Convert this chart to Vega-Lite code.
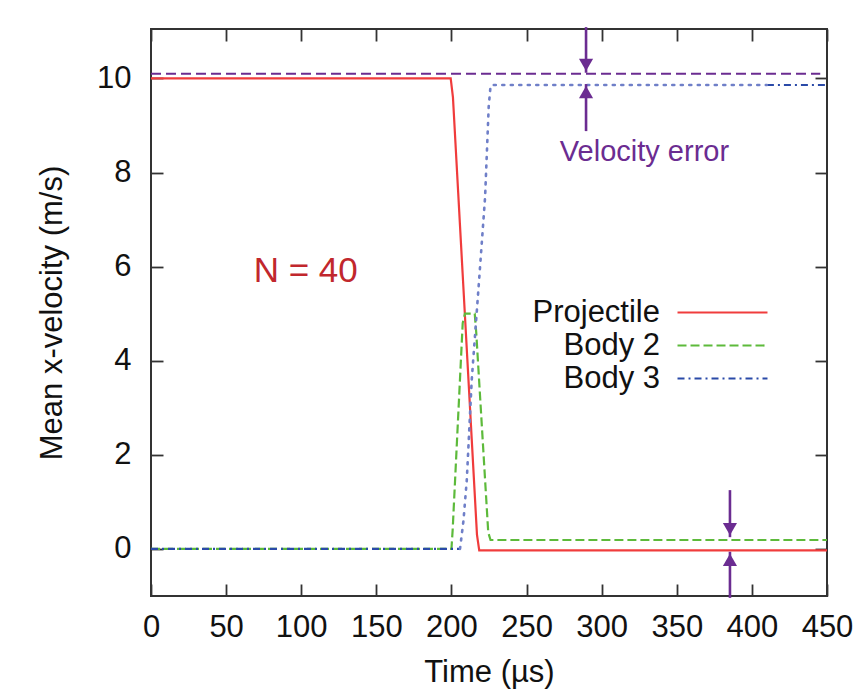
{
  "$schema": "https://vega.github.io/schema/vega-lite/v6.json",
  "width": 676,
  "height": 567,
  "autosize": "none",
  "padding": {"left": 151, "top": 29, "right": 38, "bottom": 100},
  "background": "white",
  "config": {
    "view": {"stroke": "#333333", "strokeWidth": 2},
    "axis": {
      "domain": false, "grid": false, "tickSize": -12, "tickColor": "#333333", "tickWidth": 1.8,
      "labelOverlap": false, "labelFlush": false,
      "labelFont": "Liberation Sans", "labelFontSize": 31, "labelColor": "#111111",
      "titleFont": "Liberation Sans", "titleFontSize": 31, "titleFontWeight": "normal", "titleColor": "#111111"
    }
  },
  "datasets": {
    "curves": [
      {"series": "Projectile", "part": "a", "t": 0, "v": 10},
      {"series": "Projectile", "part": "a", "t": 199.5, "v": 10},
      {"series": "Projectile", "part": "a", "t": 201, "v": 9.6},
      {"series": "Projectile", "part": "a", "t": 217, "v": 0.3},
      {"series": "Projectile", "part": "a", "t": 218.5, "v": -0.03},
      {"series": "Projectile", "part": "a", "t": 450, "v": -0.03},
      {"series": "Body 2", "part": "a", "t": 0, "v": 0},
      {"series": "Body 2", "part": "a", "t": 200, "v": 0},
      {"series": "Body 2", "part": "a", "t": 200.8, "v": 0.4},
      {"series": "Body 2", "part": "a", "t": 207.5, "v": 4.8},
      {"series": "Body 2", "part": "a", "t": 209, "v": 5.0},
      {"series": "Body 2", "part": "a", "t": 215.5, "v": 5.0},
      {"series": "Body 2", "part": "a", "t": 216.5, "v": 4.6},
      {"series": "Body 2", "part": "a", "t": 224.5, "v": 0.35},
      {"series": "Body 2", "part": "a", "t": 226, "v": 0.19},
      {"series": "Body 2", "part": "a", "t": 450, "v": 0.19},
      {"series": "Body 3", "part": "a", "t": 0, "v": 0},
      {"series": "Body 3", "part": "a", "t": 205.7, "v": 0},
      {"series": "Body 3", "part": "b", "t": 410, "v": 9.86},
      {"series": "Body 3", "part": "b", "t": 450, "v": 9.86}
    ],
    "dotted": [
      {"t": 205.7, "v": 0},
      {"t": 208, "v": 0.6},
      {"t": 210.2, "v": 1.46},
      {"t": 213.5, "v": 3.59},
      {"t": 218.4, "v": 5.71},
      {"t": 222.4, "v": 7.48},
      {"t": 224.8, "v": 9.4},
      {"t": 226, "v": 9.83},
      {"t": 227, "v": 9.86},
      {"t": 410, "v": 9.86}
    ],
    "ref": [{"t": 0, "t2": 445.5, "v": 10.1}],
    "arrows": [
      {"t": 289.6, "tail": 11.09, "tip": 10.12, "dir": "down"},
      {"t": 289.6, "tail": 8.88, "tip": 9.88, "dir": "up"},
      {"t": 385.4, "tail": 1.25, "tip": 0.25, "dir": "down"},
      {"t": 385.4, "tail": -1.04, "tip": -0.06, "dir": "up"}
    ],
    "label1": [{"t": 103, "v": 5.9, "text": "N = 40"}],
    "label2": [{"t": 328.5, "v": 8.44, "text": "Velocity error"}]
  },
  "layer": [
    {
      "data": {"name": "curves"},
      "mark": {"type": "line", "strokeWidth": 2.2, "clip": true},
      "encoding": {
        "x": {"field": "t", "type": "quantitative", "scale": {"domain": [0, 450], "nice": false, "zero": false},
              "axis": {"values": [0, 50, 100, 150, 200, 250, 300, 350, 400, 450], "title": "Time (µs)", "labelPadding": 28, "labelDx": 3, "titlePadding": 15}},
        "y": {"field": "v", "type": "quantitative", "scale": {"domain": [-1, 11.05], "nice": false, "zero": false},
              "axis": {"values": [0, 2, 4, 6, 8, 10], "title": "Mean x-velocity (m/s)", "labelPadding": 32, "titlePadding": 28}},
        "color": {"field": "series", "type": "nominal",
                  "scale": {"domain": ["Projectile", "Body 2", "Body 3"], "range": ["#f03c3c", "#5dba3b", "#2a4aa8"]},
                  "legend": {"orient": "none", "legendX": 556, "legendY": 268, "title": null, "padding": 0,
                             "symbolType": "M-4,0H4", "symbolSize": 506, "symbolStrokeWidth": 2.2,
                             "labelFont": "Liberation Sans", "labelFontSize": 31, "labelColor": "#111111",
                             "labelAlign": "right", "labelOffset": -78, "rowPadding": 1, "labelLimit": 400}},
        "strokeDash": {"field": "series", "type": "nominal",
                       "scale": {"domain": ["Projectile", "Body 2", "Body 3"], "range": [[1, 0], [9, 4], [7, 4, 2, 4]]},
                       "legend": {"orient": "none", "legendX": 556, "legendY": 268, "title": null, "padding": 0,
                             "symbolType": "M-4,0H4", "symbolSize": 506, "symbolStrokeWidth": 2.2,
                             "labelFont": "Liberation Sans", "labelFontSize": 31, "labelColor": "#111111",
                             "labelAlign": "right", "labelOffset": -78, "rowPadding": 1, "labelLimit": 400}},
        "detail": {"field": "part", "type": "nominal"},
        "order": {"field": "t", "type": "quantitative"}
      }
    },
    {
      "data": {"name": "dotted"},
      "mark": {"type": "line", "color": "#6f7fc8", "strokeWidth": 2.6, "strokeDash": [2, 6.5], "strokeCap": "round"},
      "encoding": {
        "x": {"field": "t", "type": "quantitative", "axis": null},
        "y": {"field": "v", "type": "quantitative", "axis": null}
      }
    },
    {
      "data": {"name": "ref"},
      "mark": {"type": "rule", "color": "#6b2c91", "strokeWidth": 2, "strokeDash": [10, 5]},
      "encoding": {
        "x": {"field": "t", "type": "quantitative",
              "axis": {"orient": "top", "values": [0, 50, 100, 150, 200, 250, 300, 350, 400, 450], "labels": false, "title": null}},
        "x2": {"field": "t2"},
        "y": {"field": "v", "type": "quantitative",
              "axis": {"orient": "right", "values": [0, 2, 4, 6, 8, 10], "labels": false, "title": null}}
      }
    },
    {
      "data": {"name": "arrows"},
      "mark": {"type": "rule", "color": "#6b2c91", "strokeWidth": 2.6, "clip": false},
      "encoding": {
        "x": {"field": "t", "type": "quantitative", "axis": null},
        "y": {"field": "tail", "type": "quantitative", "axis": null},
        "y2": {"field": "tip"}
      }
    },
    {
      "data": {"name": "arrows"},
      "transform": [{"filter": "datum.dir === 'down'"}],
      "mark": {"type": "point", "shape": "triangle-down", "size": 200, "filled": true, "opacity": 1, "color": "#6b2c91", "yOffset": -8, "clip": false},
      "encoding": {
        "x": {"field": "t", "type": "quantitative", "axis": null},
        "y": {"field": "tip", "type": "quantitative", "axis": null}
      }
    },
    {
      "data": {"name": "arrows"},
      "transform": [{"filter": "datum.dir === 'up'"}],
      "mark": {"type": "point", "shape": "triangle-up", "size": 200, "filled": true, "opacity": 1, "color": "#6b2c91", "yOffset": 8, "clip": false},
      "encoding": {
        "x": {"field": "t", "type": "quantitative", "axis": null},
        "y": {"field": "tip", "type": "quantitative", "axis": null}
      }
    },
    {
      "data": {"name": "label1"},
      "mark": {"type": "text", "font": "Liberation Sans", "fontSize": 35, "color": "#c1272d", "align": "center", "baseline": "middle"},
      "encoding": {
        "x": {"field": "t", "type": "quantitative", "axis": null},
        "y": {"field": "v", "type": "quantitative", "axis": null},
        "text": {"field": "text"}
      }
    },
    {
      "data": {"name": "label2"},
      "mark": {"type": "text", "font": "Liberation Sans", "fontSize": 29, "color": "#6b2c91", "align": "center", "baseline": "middle"},
      "encoding": {
        "x": {"field": "t", "type": "quantitative", "axis": null},
        "y": {"field": "v", "type": "quantitative", "axis": null},
        "text": {"field": "text"}
      }
    }
  ],
  "resolve": {"axis": {"x": "independent", "y": "independent"}}
}
